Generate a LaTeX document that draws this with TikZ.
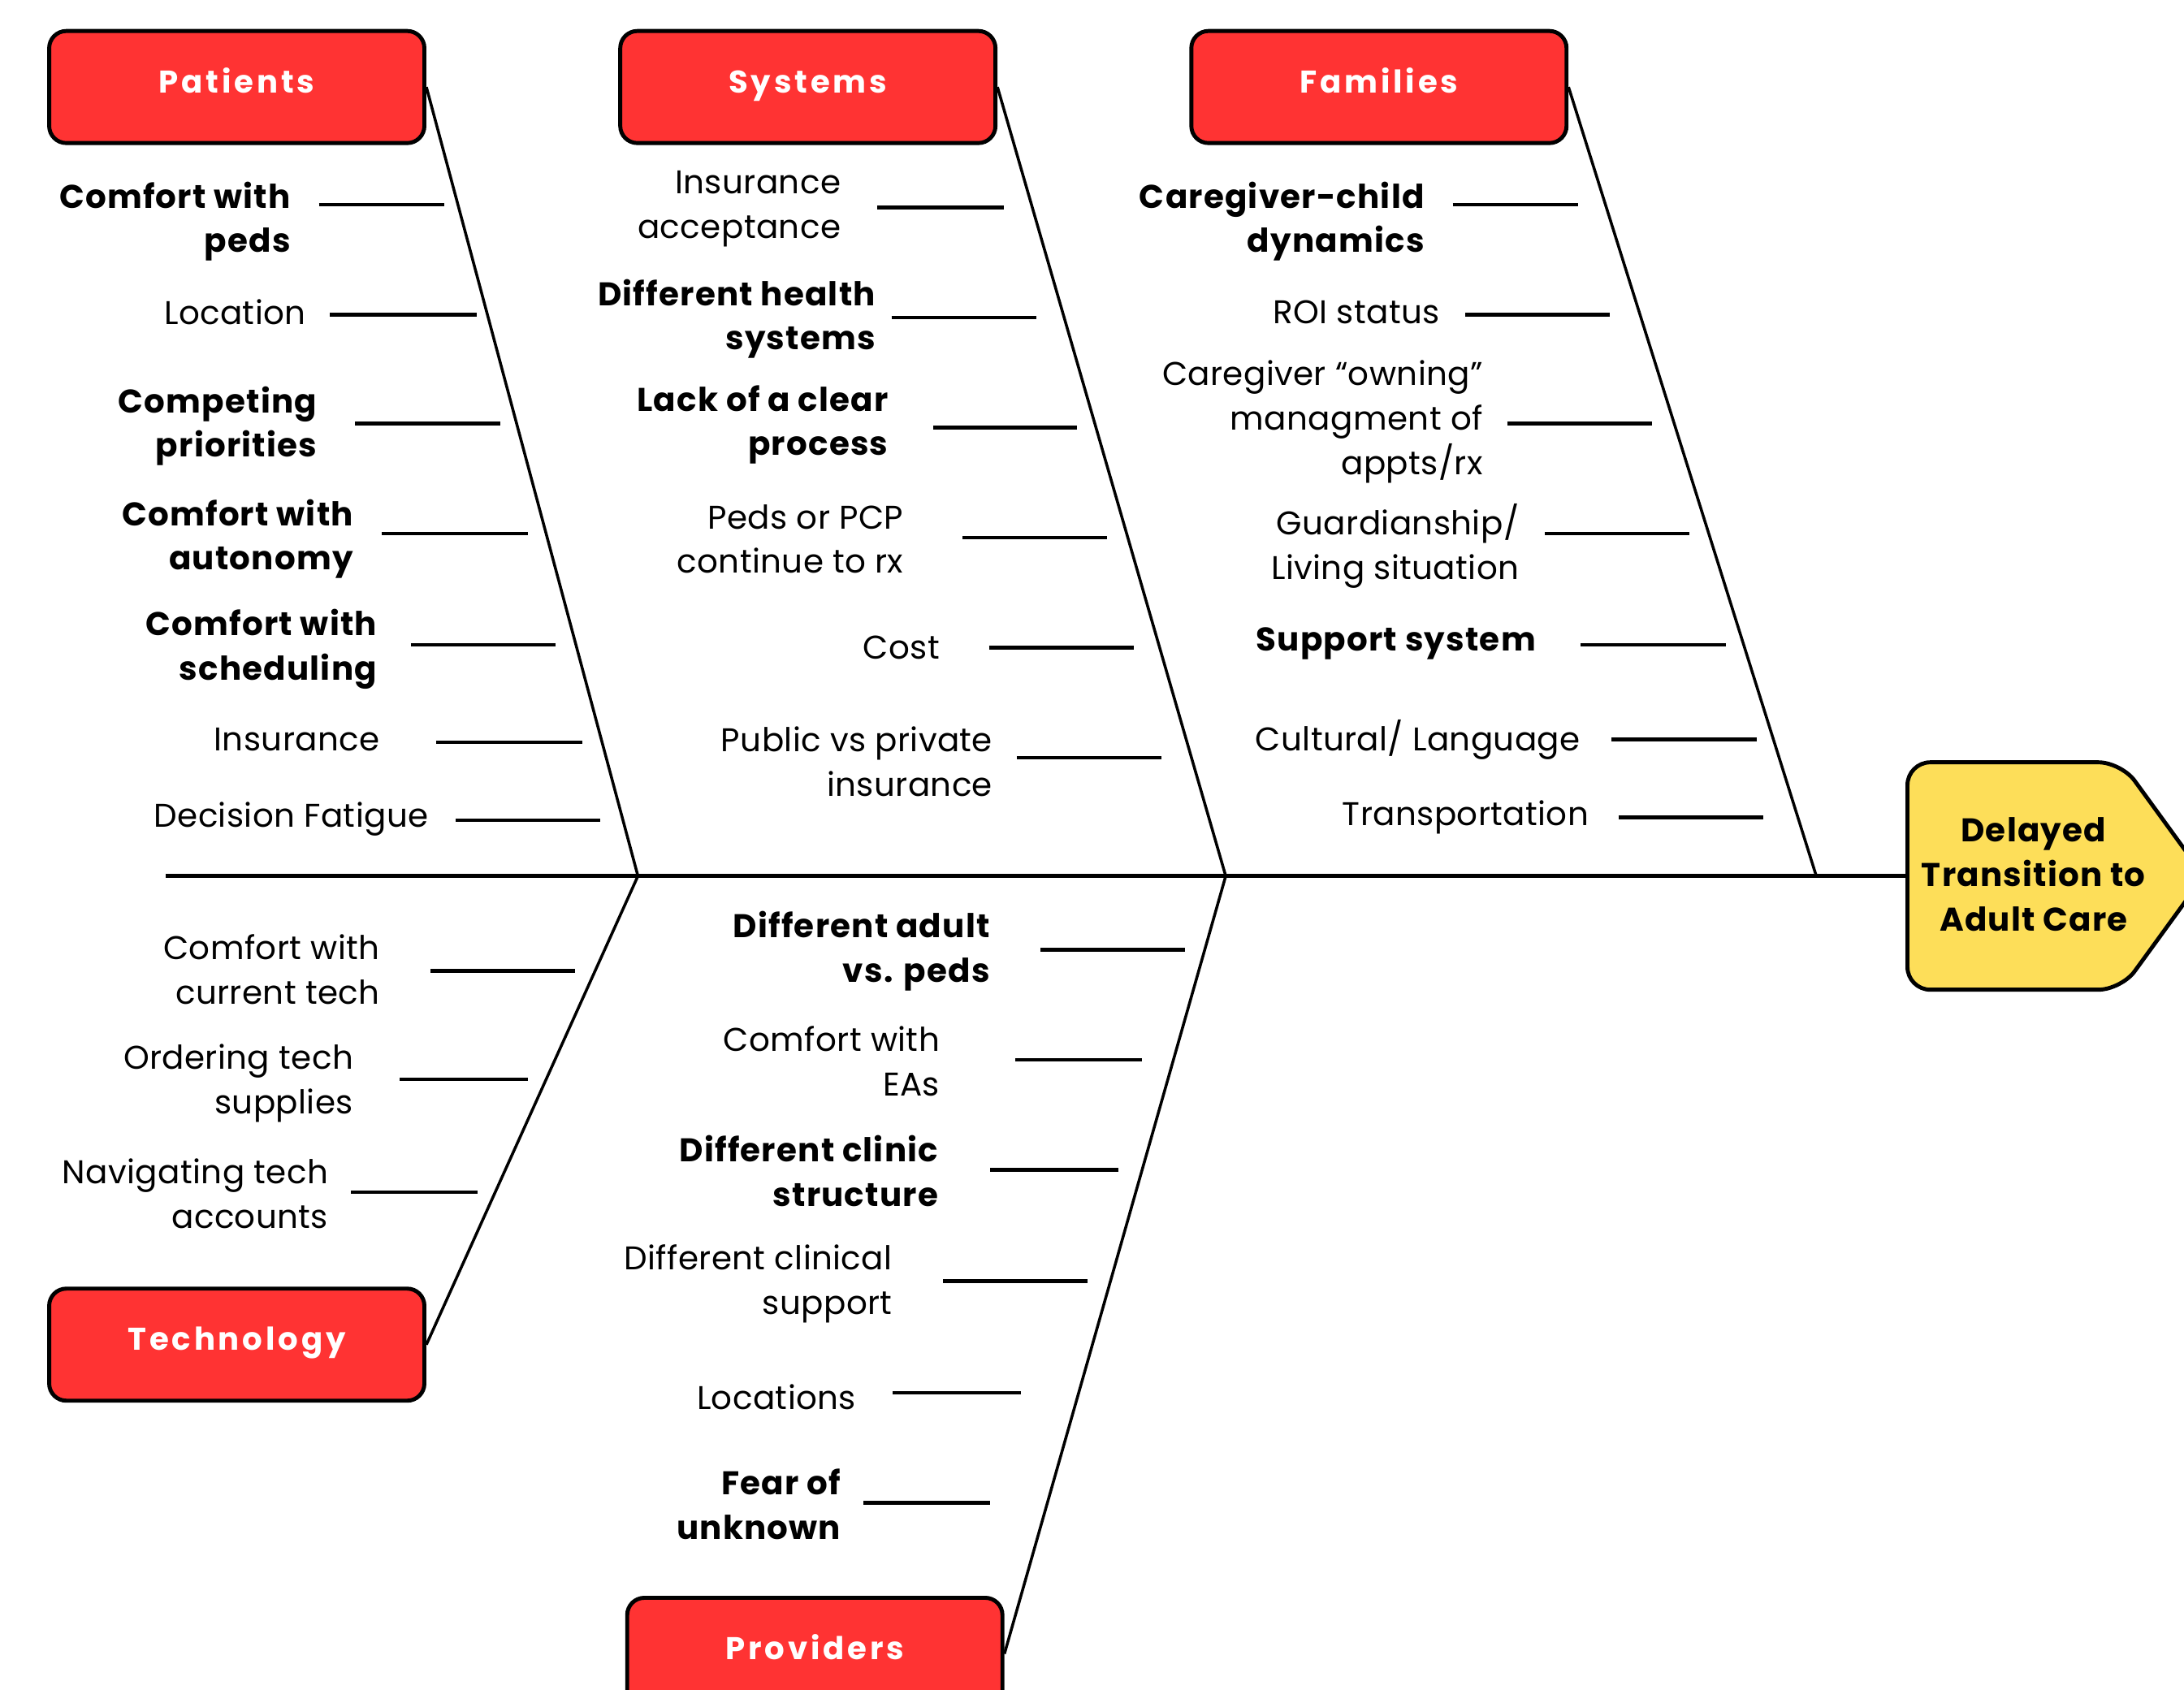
\documentclass[tikz,border=0pt]{standalone}
\usepackage{fontspec}
\setmainfont{Poppins}
\usepackage{xcolor}
\usetikzlibrary{shapes.symbols, positioning}
\definecolor{hdred}{HTML}{FF3333}
\definecolor{hdyellow}{HTML}{FDDE59}

\begin{document}
\begin{tikzpicture}[x=0.01715cm, y=-0.01715cm,
    hd/.style={rectangle, rounded corners=6pt, draw=black, line width=1.4pt,
        fill=hdred, text=white, minimum width=4.62cm, minimum height=1.38cm,
        text height=0.7em, text depth=0.3em,
        font=\fontsize{11}{14}\selectfont\bfseries\addfontfeature{LetterSpace=10}},
    lbl/.style={anchor=east, align=right, inner sep=0pt,
        font=\fontsize{11.5}{15.6}\selectfont\addfontfeature{LetterSpace=1}},
    blbl/.style={lbl, font=\fontsize{11.5}{15.6}\selectfont\bfseries\addfontfeature{LetterSpace=3}},
    twig/.style={line width=1.3pt},
    bone/.style={line width=1pt},
    spine/.style={line width=1.6pt}]
\useasboundingbox (0,0) rectangle (1568,1213);
\clip (0,0) rectangle (1568,1213);

% category heads
\node[hd] (pat) at (170,62.5) {Patients};
\node[hd] (sys) at (580,62.5) {Systems};
\node[hd] (fam) at (990,62.5) {Families};
\node[hd] (tec) at (170,965.5) {Technology};
\node[hd] (pro) at (585,1187.5) {Providers};

% effect
\node[signal, signal to=east, signal pointer angle=108, draw, line width=1.4pt,
    fill=hdyellow, rounded corners=8pt, minimum width=3.65cm, minimum height=2.8cm,
    anchor=west] (eff) at (1368,629) {};
\node[align=center, font=\fontsize{11.5}{15.6}\selectfont\bfseries\addfontfeature{LetterSpace=3}]
    (efftxt) at (1460,628) {Delayed\\Transition to\\Adult Care};

% spine and bones
\coordinate (tail) at (119,629);
\coordinate (j1) at (458,629);
\coordinate (j2) at (880,629);
\coordinate (j3) at (1304,629);
\draw[spine] (tail) -- (eff.west);
\draw[bone] (pat.east) -- (j1);
\draw[bone] (sys.east) -- (j2);
\draw[bone] (fam.east) -- (j3);
\draw[bone] (tec.east) -- (j1);
\draw[bone] (pro.east) -- (j2);

% patients
\node[blbl] (pa1) at (209,159) {Comfort with\\peds};
\node[lbl] (pa2) at (220,224) {Location};
\node[blbl] (pa3) at (228,306) {Competing\\priorities};
\node[blbl] (pa4) at (254,387) {Comfort with\\autonomy};
\node[blbl] (pa5) at (271,466) {Comfort with\\scheduling};
\node[lbl] (pa6) at (273,531) {Insurance};
\node[lbl] (pa7) at (308,588) {Decision Fatigue};
\draw[twig] (pa1.east) ++(20,-12) -- ++(90,0);
\draw[twig] (pa2.east) ++(17,2) -- ++(105,0);
\draw[twig] (pa3.east) ++(27,-2) -- ++(104,0);
\draw[twig] (pa4.east) ++(20,-4) -- ++(105,0);
\draw[twig] (pa5.east) ++(24,-3) -- ++(104,0);
\draw[twig] (pa6.east) ++(40,2) -- ++(105,0);
\draw[twig] (pa7.east) ++(19,1) -- ++(104,0);

% systems
\node[lbl] (sy1) at (604,150) {Insurance\\acceptance};
\node[blbl] (sy2) at (629,229) {Different health\\systems};
\node[blbl] (sy3) at (638,305) {Lack of a clear\\process};
\node[lbl] (sy4) at (649,387) {Peds or PCP\\continue to rx};
\node[lbl] (sy5) at (675,465) {Cost};
\node[lbl] (sy6) at (713,547) {Public vs private\\insurance};
\draw[twig] (sy1.east) ++(26,-1) -- ++(91,0);
\draw[twig] (sy2.east) ++(11,-1) -- ++(104,0);
\draw[twig] (sy3.east) ++(32,2) -- ++(103,0);
\draw[twig] (sy4.east) ++(42,-1) -- ++(104,0);
\draw[twig] (sy5.east) ++(35,0) -- ++(104,0);
\draw[twig] (sy6.east) ++(17,-3) -- ++(104,0);

% families
\node[blbl] (fa1) at (1023,159) {Caregiver-child\\dynamics};
\node[lbl] (fa2) at (1034,224) {ROI status};
\node[lbl] (fa3) at (1065,303) {Caregiver “owning”\\managment of\\appts/rx};
\node[lbl] (fa4) at (1091,392) {Guardianship/\\Living situation};
\node[blbl] (fa5) at (1103,462) {Support system};
\node[lbl] (fa6) at (1135,531) {Cultural/ Language};
\node[lbl] (fa7) at (1141,587) {Transportation};
\draw[twig] (fa1.east) ++(20,-12) -- ++(90,0);
\draw[twig] (fa2.east) ++(18,2) -- ++(104,0);
\draw[twig] (fa3.east) ++(17,1) -- ++(104,0);
\draw[twig] (fa4.east) ++(18,-9) -- ++(104,0);
\draw[twig] (fa5.east) ++(32,1) -- ++(104,0);
\draw[twig] (fa6.east) ++(22,0) -- ++(104,0);
\draw[twig] (fa7.east) ++(21,0) -- ++(104,0);

% technology
\node[lbl] (te1) at (273,696) {Comfort with\\current tech};
\node[lbl] (te2) at (254,778) {Ordering tech\\supplies};
\node[lbl] (te3) at (236,857) {Navigating tech\\accounts};
\draw[twig] (te1.east) ++(36,1) -- ++(104,0);
\draw[twig] (te2.east) ++(33,-3) -- ++(92,0);
\draw[twig] (te3.east) ++(16,-1) -- ++(91,0);

% providers
\node[blbl] (pr1) at (711,683) {Different adult\\vs. peds};
\node[lbl] (pr2) at (675,762) {Comfort with\\EAs};
\node[blbl] (pr3) at (674,841) {Different clinic\\structure};
\node[lbl] (pr4) at (641,922) {Different clinical\\support};
\node[lbl] (pr5) at (615,1003) {Locations};
\node[blbl] (pr6) at (604,1080) {Fear of\\unknown};
\draw[twig] (pr1.east) ++(36,-1) -- ++(104,0);
\draw[twig] (pr2.east) ++(54,-1) -- ++(91,0);
\draw[twig] (pr3.east) ++(37,-1) -- ++(92,0);
\draw[twig] (pr4.east) ++(36,-2) -- ++(104,0);
\draw[twig] (pr5.east) ++(26,-3) -- ++(92,0);
\draw[twig] (pr6.east) ++(16,-1) -- ++(91,0);
\end{tikzpicture}
\end{document}
